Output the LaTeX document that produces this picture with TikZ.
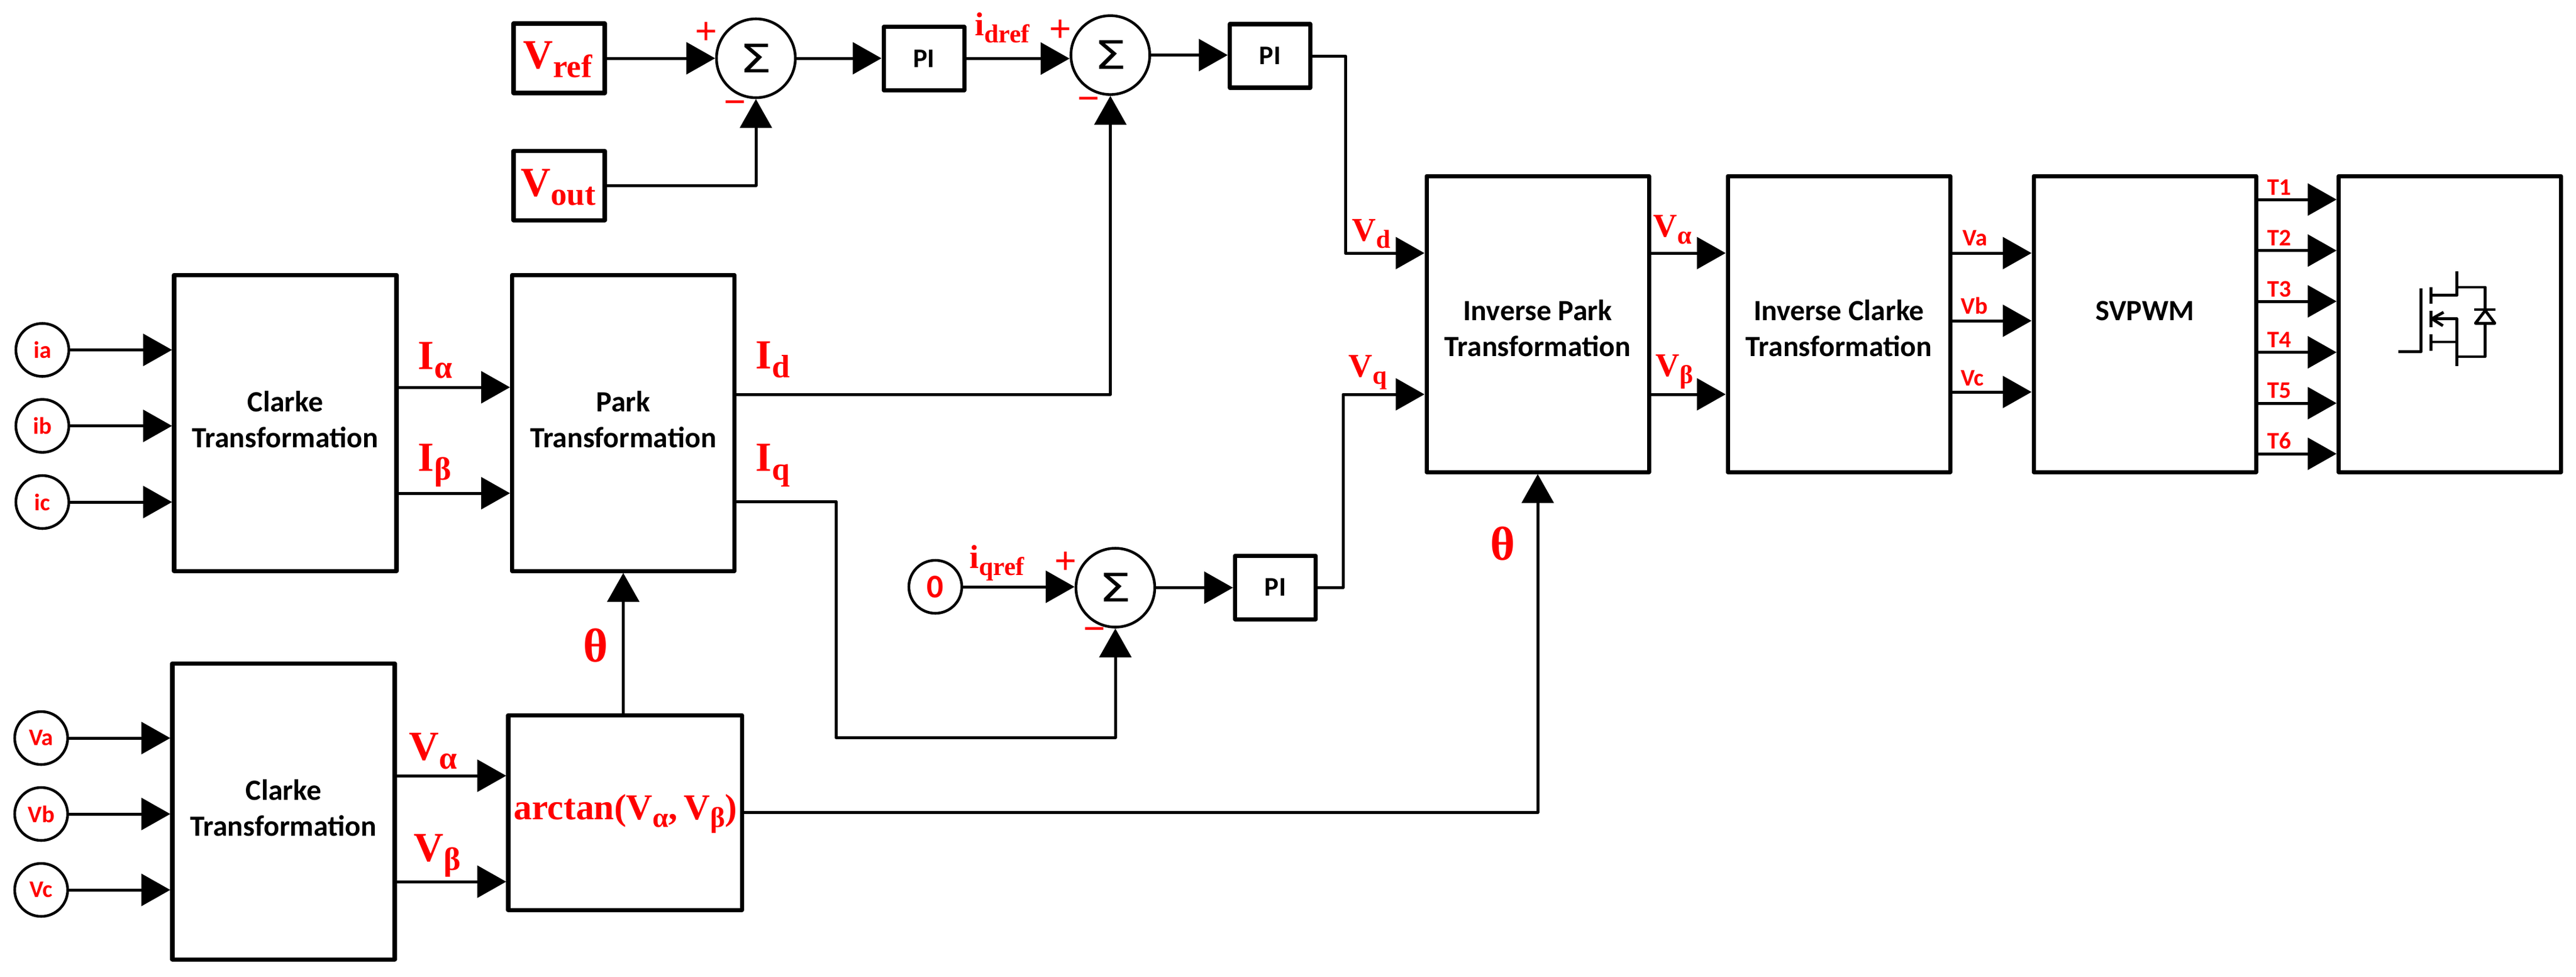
\documentclass[tikz,border=0pt]{standalone}
\usepackage{fontspec}
\usepackage{xcolor}
\usepackage{graphicx}
\usetikzlibrary{arrows.meta,positioning}
\setmainfont{Carlito}
\newfontfamily\serifbold{Liberation Serif}
\newfontfamily\sigmafont{DejaVu Sans}
\newcommand{\sz}[1]{\fontsize{#1}{#1}\selectfont}
\newcommand{\subs}[1]{\raisebox{-0.22em}{\scalebox{0.78}{#1}}}

\begin{document}
\begin{tikzpicture}[
    x=1cm,y=-1cm,
    box/.style={rectangle,draw,line width=2pt,line join=round,inner sep=0pt,align=center,font=\fontsize{14.2pt}{0.61cm}\selectfont\bfseries},
    bigbox/.style={box,minimum width=3.78cm,minimum height=5.03cm},
    pibox/.style={box,minimum width=1.37cm,minimum height=1.08cm,font=\sz{13pt}\bfseries},
    srcbox/.style={box,minimum width=1.55cm,minimum height=1.18cm},
    input/.style={circle,draw,line width=1.3pt,minimum size=0.9cm,inner sep=0pt,text=red,font=\sz{11.5pt}\bfseries},
    sumnode/.style={circle,draw,line width=1.3pt,minimum size=1.34cm,inner sep=0pt,font=\sz{19pt}\sigmafont},
    arrow/.style={-{Triangle[length=0.49cm,width=0.54cm]},line width=1.42pt,line join=round},
    mos/.style={line width=1.4pt,line join=round},
    rlabel/.style={anchor=base west,inner sep=0pt,text=red,font=\serifbold\bfseries\sz{#1}},
    clabel/.style={anchor=base west,inner sep=0pt,text=red,font=\sz{11.5pt}\bfseries},
    sign/.style={inner sep=0pt,text=red,font=\serifbold\bfseries\sz{19pt}}
]
    \useasboundingbox (0,0) rectangle (43.79,16.59);

    \node[bigbox,text depth=0.12cm] (clarkei) at (4.85,7.185) {Clarke\\Transformation};
    \node[bigbox,text depth=0.12cm] (park) at (10.595,7.185) {Park\\Transformation};
    \node[bigbox,text depth=0.12cm] (clarkev) at (4.82,13.785) {Clarke\\Transformation};
    \node[box,minimum width=3.97cm,minimum height=3.31cm] (arctan) at (10.625,13.805) {};
    \node[bigbox,text height=1.11cm] (invpark) at (26.14,5.505) {Inverse Park\\Transformation};
    \node[bigbox,text height=1.11cm] (invclarke) at (31.26,5.505) {Inverse Clarke\\Transformation};
    \node[bigbox,text depth=0.44cm] (svpwm) at (36.46,5.505) {SVPWM};
    \node[bigbox] (switch) at (41.645,5.505) {};

    \node[srcbox] (vref) at (9.505,0.99) {};
    \node[srcbox] (vout) at (9.505,3.153) {};
    \node[pibox] (pia) at (15.705,0.995) {PI};
    \node[pibox] (pid) at (21.59,0.95) {PI};
    \node[pibox] (piq) at (21.68,9.98) {PI};
    \node[sumnode] (suma) at (12.85,0.99) {\scalebox{1.3}[1]{Σ}};
    \node[sumnode] (sumd) at (18.875,0.936) {\scalebox{1.3}[1]{Σ}};
    \node[sumnode] (sumq) at (18.96,9.985) {\scalebox{1.3}[1]{Σ}};
    \node[input,font=\sz{16pt}\bfseries] (zero) at (15.90,9.97) {0};

    \node[input] (ia) at (0.72,5.945) {ia};
    \node[input] (ib) at (0.72,7.236) {ib};
    \node[input] (ic) at (0.72,8.53) {ic};
    \node[input] (va) at (0.70,12.54) {Va};
    \node[input] (vb) at (0.70,13.83) {Vb};
    \node[input] (vc) at (0.70,15.12) {Vc};

    \coordinate (ialpha) at (7,6.58);
    \coordinate (ibeta) at (7,8.38);
    \coordinate (valpha) at (7,13.18);
    \coordinate (vbeta) at (7,14.98);
    \coordinate (idc) at (13,6.70);
    \coordinate (iqc) at (14.21,8.52);
    \coordinate (iqlow) at (14.21,12.53);
    \coordinate (vdc) at (22.87,4.30);
    \coordinate (vqc) at (22.83,6.70);
    \coordinate (outb) at (30,6.66);
    \coordinate (outab) at (30,5.45);

    \draw[arrow] (ia) -- (clarkei.west |- ia);
    \draw[arrow] (ib) -- (clarkei.west |- ib);
    \draw[arrow] (ic) -- (clarkei.west |- ic);
    \draw[arrow] (va) -- (clarkev.west |- va);
    \draw[arrow] (vb) -- (clarkev.west |- vb);
    \draw[arrow] (vc) -- (clarkev.west |- vc);
    \draw[arrow] (clarkei.east |- ialpha) -- (park.west |- ialpha);
    \draw[arrow] (clarkei.east |- ibeta) -- (park.west |- ibeta);
    \draw[arrow] (clarkev.east |- valpha) -- (arctan.west |- valpha);
    \draw[arrow] (clarkev.east |- vbeta) -- (arctan.west |- vbeta);
    \draw[arrow] (arctan.north -| park.south) -- (park.south);
    \draw[arrow] (arctan.east) -| (invpark.south);
    \draw[arrow] (vref) -- (vref -| suma.west);
    \draw[arrow] (vout.east) -| (suma.south);
    \draw[arrow] (suma) -- (suma -| pia.west);
    \draw[arrow] (pia) -- (pia -| sumd.west);
    \draw[arrow] (sumd) -- (sumd -| pid.west);
    \draw[arrow] (park.east |- idc) -| (sumd.south);
    \draw[arrow] (park.east |- iqc) -| (iqlow) -| (sumq.south);
    \draw[arrow] (zero) -- (zero -| sumq.west);
    \draw[arrow] (sumq) -- (sumq -| piq.west);
    \draw[arrow] (pid.east) -| (vdc) -- (invpark.west |- vdc);
    \draw[arrow] (piq.east) -| (vqc) -- (invpark.west |- vqc);
    \draw[arrow] (invpark.east |- vdc) -- (invclarke.west |- vdc);
    \draw[arrow] (invpark.east |- vqc) -- (invclarke.west |- vqc);
    \draw[arrow] (invclarke.east |- vdc) -- (svpwm.west |- vdc);
    \draw[arrow] (invclarke.east |- outab) -- (svpwm.west |- outab);
    \draw[arrow] (invclarke.east |- outb) -- (svpwm.west |- outb);

    \foreach \i/\y/\b in {1/3.39/3.31,2/4.257/4.17,3/5.12/5.04,4/5.986/5.90,5/6.85/6.76,6/7.71/7.62} {
        \coordinate (t\i) at (39,\y);
        \node[clabel] (tlabel\i) at (38.54,\b) {T\i};
        \draw[arrow] (svpwm.east |- t\i) -- (switch.west |- t\i);
    }

    \node[rlabel=20pt] (lia) at (7.10,6.27) {I\subs{α}};
    \node[rlabel=20pt] (lib) at (7.10,8.00) {I\subs{β}};
    \node[rlabel=20pt] (lid) at (12.84,6.26) {I\subs{d}};
    \node[rlabel=20pt] (liq) at (12.84,8.00) {I\subs{q}};
    \node[rlabel=20pt] (lva) at (6.95,12.91) {V\subs{α}};
    \node[rlabel=20pt] (lvb) at (7.03,14.63) {V\subs{β}};
    \node[rlabel=23pt] (thetaa) at (9.91,11.24) {θ};
    \node[rlabel=23pt] (thetab) at (25.33,9.515) {θ};
    \node[rlabel=17.6pt] (larctan) at (8.73,13.92) {arctan(V\subs{α},\,V\subs{β})};
    \node[rlabel=20pt] (lvref) at (8.89,1.16) {V\subs{ref}};
    \node[rlabel=20pt] (lvout) at (8.85,3.33) {V\subs{out}};
    \node[rlabel=16pt] (lidref) at (16.57,0.60) {i\subs{dref}};
    \node[rlabel=16pt] (liqref) at (16.48,9.65) {i\subs{qref}};
    \node[rlabel=16pt] (lvd) at (22.98,4.09) {V\subs{d}};
    \node[rlabel=16pt] (lvq) at (22.92,6.40) {V\subs{q}};
    \node[rlabel=16pt] (lvalpha) at (28.10,4.02) {V\subs{α}};
    \node[rlabel=16pt] (lvbeta) at (28.14,6.39) {V\subs{β}};
    \node[clabel] (loa) at (33.36,4.17) {Va};
    \node[clabel] (lob) at (33.33,5.33) {Vb};
    \node[clabel] (loc) at (33.33,6.556) {Vc};

    \node[sign] (plusa) at (12.005,0.57) {+};
    \node[sign] (plusd) at (18.03,0.53) {+};
    \node[sign] (plusq) at (18.12,9.57) {+};
    \node[sign] (minusa) at (12.50,1.83) {−};
    \node[sign] (minusd) at (18.51,1.77) {−};
    \node[sign] (minusq) at (18.60,10.786) {−};

    \draw[mos] (40.77,5.975) -- (41.157,5.975) -- (41.157,4.903);
    \draw[mos] (41.323,4.88) -- (41.323,5.16);
    \draw[mos] (41.323,5.275) -- (41.323,5.56);
    \draw[mos] (41.323,5.676) -- (41.323,5.96);
    \draw[mos] (41.323,5.018) -- (41.767,5.018) -- (41.767,4.605);
    \draw[mos] (41.767,4.88) -- (42.247,4.88) -- (42.247,5.26);
    \draw[mos] (41.34,5.416) -- (41.76,5.416) -- (41.76,6.22);
    \draw[mos] (41.323,5.81) -- (41.76,5.81);
    \draw[mos] (41.76,6.06) -- (42.24,6.06) -- (42.24,5.485);
    \draw[mos] (41.538,5.305) -- (41.34,5.416) -- (41.527,5.535);
    \draw[mos] (42.055,5.26) -- (42.424,5.26);
    \draw[mos] (42.247,5.275) -- (42.08,5.493) -- (42.41,5.493) -- cycle;
\end{tikzpicture}
\end{document}
